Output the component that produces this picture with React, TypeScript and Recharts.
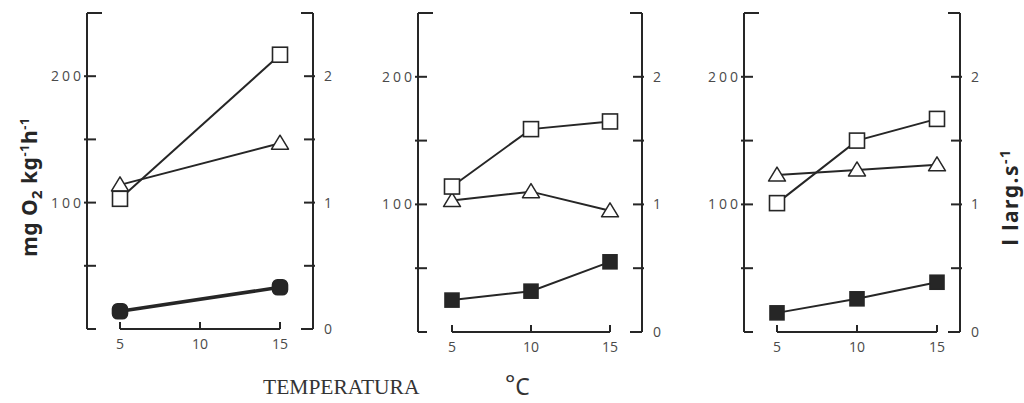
import React from 'react';
import { LineChart, Line, XAxis, YAxis, ReferenceLine } from 'recharts';

// ---- data ----
const temps1 = [5, 15];
const temps = [5, 10, 15];
const xTicks = [5, 10, 15];
const leftTicks = [0, 50, 100, 150, 200, 250];
const rightTicks = [0, 0.5, 1, 1.5, 2, 2.5];
const leftLabels = [100, 200];
const rightLabels = [0, 1, 2];

const p1Open = [103, 217];
const p1Tri = [114, 147];
const p1Filled = [0.14, 0.33];

const p2Open = [114, 159, 165];
const p2Tri = [103, 110, 95];
const p2Filled = [0.25, 0.32, 0.55];

const p3Open = [101, 150, 167];
const p3Tri = [123, 127, 131];
const p3Filled = [0.15, 0.26, 0.39];

const INK = '#262626';
const LABEL = '#4a4a4a';
const TICK_FONT = '"Open Sans", "DejaVu Sans", sans-serif';

const YW = 50;
const MT = 6;
const XH = 34;

type Rect = { left: number; right: number; top: number; bottom: number };

const LeftTick = (props: any) => {
  const { x, y, payload } = props;
  const v = payload.value;
  const cap = v === 250;
  return (
    <g>
      <line x1={x - (cap || v === 0 ? 0 : 3)} x2={x + (cap ? 15 : 9)} y1={y} y2={y} stroke={INK} strokeWidth={2} />
      {leftLabels.includes(v) && (
        <text x={x - 3} y={y} dy="0.36em" textAnchor="end" fontSize={14} letterSpacing={3} fill={LABEL} fontFamily={TICK_FONT}>
          {v}
        </text>
      )}
    </g>
  );
};

const RightTick = (props: any) => {
  const { x, y, payload } = props;
  const v = payload.value;
  const cap = v === 2.5 || v === 0;
  return (
    <g>
      <line x1={x - (cap ? 12 : 9)} x2={x + (cap ? 0 : 2)} y1={y} y2={y} stroke={INK} strokeWidth={2} />
      {rightLabels.includes(v) && (
        <text x={x + 11} y={y} dy="0.36em" textAnchor="start" fontSize={14} fill={LABEL} fontFamily={TICK_FONT}>
          {v}
        </text>
      )}
    </g>
  );
};

const BottomTick = (props: any) => {
  const { x, y, payload } = props;
  return (
    <g>
      <line x1={x} x2={x} y1={y - 7} y2={y} stroke={INK} strokeWidth={2} />
      <text x={x} y={y + 20} textAnchor="middle" fontSize={14} fill={LABEL} fontFamily={TICK_FONT}>
        {payload.value}
      </text>
    </g>
  );
};

const squareDot = (filled: boolean, size: number, rx: number) => (props: any) => {
  const { cx, cy, index } = props;
  return (
    <rect
      key={`s${index}`}
      x={cx - size / 2}
      y={cy - size / 2}
      width={size}
      height={size}
      rx={rx}
      fill={filled ? INK : '#fff'}
      stroke={INK}
      strokeWidth={1.6}
    />
  );
};

const triDot = (props: any) => {
  const { cx, cy, index } = props;
  return (
    <polygon
      key={`t${index}`}
      points={`${cx},${cy - 8} ${cx + 8.5},${cy + 6} ${cx - 8.5},${cy + 6}`}
      fill="#fff"
      stroke={INK}
      strokeWidth={1.5}
      strokeLinejoin="round"
    />
  );
};

type PanelProps = {
  t: number[];
  open: number[];
  tri: number[];
  filled: number[];
  rect: Rect;
  pad: { left: number; right: number };
  blob?: boolean;
};

const Panel = ({ t, open, tri, filled, rect, pad, blob }: PanelProps) => {
  const data = t.map((tv, i) => ({ t: tv, open: open[i], tri: tri[i], filled: filled[i] }));
  const width = rect.right - rect.left + 2 * YW;
  const height = rect.bottom - rect.top + MT + XH;
  return (
    <div style={{ position: 'absolute', left: rect.left - YW, top: rect.top - MT, width, height }}>
      <LineChart width={width} height={height} data={data} margin={{ top: MT, right: 0, bottom: 0, left: 0 }}>
        <XAxis
          dataKey="t"
          type="number"
          domain={[5, 15]}
          ticks={xTicks}
          padding={pad}
          height={XH}
          axisLine={false}
          tickLine={false}
          tickSize={0}
          tickMargin={0}
          tick={BottomTick}
          interval={0}
        />
        <YAxis
          yAxisId="left"
          orientation="left"
          type="number"
          domain={[0, 250]}
          ticks={leftTicks}
          width={YW}
          axisLine={{ stroke: INK, strokeWidth: 2 }}
          tickLine={false}
          tickSize={0}
          tickMargin={0}
          tick={LeftTick}
          interval={0}
        />
        <YAxis
          yAxisId="right"
          orientation="right"
          type="number"
          domain={[0, 2.5]}
          ticks={rightTicks}
          width={YW}
          axisLine={{ stroke: INK, strokeWidth: 2 }}
          tickLine={false}
          tickSize={0}
          tickMargin={0}
          tick={RightTick}
          interval={0}
        />
        <ReferenceLine
          yAxisId="left"
          segment={[
            { x: 5, y: 0 },
            { x: 15, y: 0 },
          ]}
          stroke={INK}
          strokeWidth={2}
        />
        <Line
          yAxisId="right"
          dataKey="filled"
          stroke={INK}
          strokeWidth={blob ? 3.5 : 2}
          dot={blob ? squareDot(true, 15, 5) : squareDot(true, 14, 0)}
          isAnimationActive={false}
        />
        <Line yAxisId="left" dataKey="tri" stroke={INK} strokeWidth={2} dot={triDot} isAnimationActive={false} />
        <Line
          yAxisId="left"
          dataKey="open"
          stroke={INK}
          strokeWidth={2}
          dot={squareDot(false, 15, 0)}
          isAnimationActive={false}
        />
      </LineChart>
    </div>
  );
};

export default function App() {
  return (
    <div style={{ position: 'absolute', left: 0, top: 0, width: 1024, height: 403, background: '#fff', overflow: 'hidden' }}>
      <Panel t={temps1} open={p1Open} tri={p1Tri} filled={p1Filled} rect={{ left: 87, right: 313, top: 13, bottom: 329 }} pad={{ left: 33, right: 33 }} blob />
      <Panel t={temps} open={p2Open} tri={p2Tri} filled={p2Filled} rect={{ left: 418, right: 642, top: 13, bottom: 332 }} pad={{ left: 34, right: 32 }} />
      <Panel t={temps} open={p3Open} tri={p3Tri} filled={p3Filled} rect={{ left: 744, right: 960, top: 13, bottom: 332 }} pad={{ left: 33, right: 23 }} />
      <svg width={1024} height={403} style={{ position: 'absolute', left: 0, top: 0, pointerEvents: 'none' }}>
        <text transform="translate(37,187) rotate(-90)" textAnchor="middle" fontSize={21} fontWeight={700} letterSpacing={0.5} fill={INK} fontFamily='"Noto Sans", sans-serif'>
          mg O
          <tspan dy={5} fontSize={15}>2</tspan>
          <tspan dy={-5}> kg</tspan>
          <tspan dy={-8} fontSize={13}>-1</tspan>
          <tspan dy={8}>h</tspan>
          <tspan dy={-8} fontSize={13}>-1</tspan>
        </text>
        <text transform="translate(1018,197) rotate(-90)" textAnchor="middle" fontSize={21} fontWeight={700} letterSpacing={1.5} fill={INK} fontFamily='"Noto Sans", sans-serif'>
          l larg.s
          <tspan dy={-8} fontSize={14}>-1</tspan>
        </text>
        <text x={263} y={394} fontSize={21.5} fill="#333" fontFamily='"Liberation Serif", serif'>
          TEMPERATURA
        </text>
        <text x={505} y={395} fontSize={23} fill="#333" fontFamily='"Noto Sans", sans-serif'>
          <tspan fontSize={24} dy={-3}>°</tspan>
          <tspan dy={3}>C</tspan>
        </text>
      </svg>
    </div>
  );
}
